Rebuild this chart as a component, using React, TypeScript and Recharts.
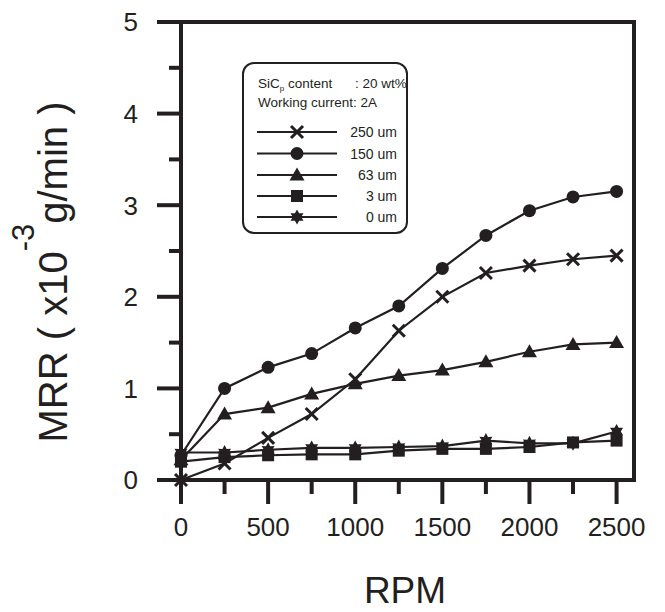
import React from 'react';
import { LineChart, Line, XAxis, YAxis, ReferenceArea, Customized } from 'recharts';

const INK = '#231f20';
const FONT = '"Liberation Sans", Arial, Helvetica, sans-serif';

// ---- data ----
const rpm = [0, 250, 500, 750, 1000, 1250, 1500, 1750, 2000, 2250, 2500];
const mrr250um = [0.0, 0.18, 0.46, 0.72, 1.1, 1.63, 2.0, 2.26, 2.34, 2.41, 2.45];
const mrr150um = [0.27, 1.0, 1.23, 1.38, 1.66, 1.9, 2.31, 2.67, 2.94, 3.09, 3.15];
const mrr63um = [0.22, 0.72, 0.79, 0.94, 1.05, 1.14, 1.2, 1.29, 1.4, 1.48, 1.5];
const mrr3um = [0.2, 0.25, 0.27, 0.28, 0.28, 0.32, 0.34, 0.34, 0.36, 0.41, 0.43];
const mrr0um = [0.3, 0.3, 0.33, 0.35, 0.35, 0.36, 0.37, 0.43, 0.4, 0.4, 0.53];

const seriesNames = ['250 um', '150 um', '63 um', '3 um', '0 um'];
const seriesKeys = ['s250', 's150', 's63', 's3', 's0'];
const seriesValues = [mrr250um, mrr150um, mrr63um, mrr3um, mrr0um];
const seriesShapes = ['x', 'circle', 'triangle', 'square', 'star'];

const xTicks = [0, 250, 500, 750, 1000, 1250, 1500, 1750, 2000, 2250, 2500];
const yTicks = [0, 0.5, 1, 1.5, 2, 2.5, 3, 3.5, 4, 4.5, 5];

const legendTitle1 = 'SiC';
const legendTitle1Sub = 'p';
const legendTitle1Rest = ' content';
const legendTitle1Value = ': 20 wt%';
const legendTitle2 = 'Working current: 2A';

const data = rpm.map((r, i) => {
  const row: any = { rpm: r };
  seriesKeys.forEach((k, j) => (row[k] = seriesValues[j][i]));
  return row;
});

// ---- layout ----
const W = 665;
const H = 612;
const Y_TICK_SIZE = 24;
const Y_TICK_MARGIN = 19;
const X_TICK_SIZE = 24;
const X_TICK_MARGIN = 14;

function Marker({ shape, cx, cy }: { shape: string; cx: number; cy: number }) {
  if (cx == null || cy == null || isNaN(cx) || isNaN(cy)) return null;
  switch (shape) {
    case 'x':
      return (
        <g stroke={INK} strokeWidth={3}>
          <line x1={cx - 6} y1={cy - 6} x2={cx + 6} y2={cy + 6} />
          <line x1={cx - 6} y1={cy + 6} x2={cx + 6} y2={cy - 6} />
        </g>
      );
    case 'circle':
      return <circle cx={cx} cy={cy} r={6.5} fill={INK} />;
    case 'triangle':
      return (
        <polygon
          points={`${cx},${cy - 7.5} ${cx - 7.5},${cy + 5.5} ${cx + 7.5},${cy + 5.5}`}
          fill={INK}
        />
      );
    case 'square':
      return <rect x={cx - 6} y={cy - 6} width={12} height={12} fill={INK} />;
    case 'star': {
      const pts: string[] = [];
      for (let i = 0; i < 12; i++) {
        const r = i % 2 === 0 ? 7.5 : 4.2;
        const a = -Math.PI / 2 + (i * Math.PI) / 6;
        pts.push(`${cx + r * Math.cos(a)},${cy + r * Math.sin(a)}`);
      }
      return <polygon points={pts.join(' ')} fill={INK} />;
    }
    default:
      return null;
  }
}

const YTick = (props: any) => {
  const { x, y, payload } = props;
  const v = payload.value;
  const major = Math.abs(v - Math.round(v)) < 1e-6;
  const ax = x + Y_TICK_SIZE + Y_TICK_MARGIN;
  return (
    <g>
      <line x1={ax - (major ? Y_TICK_SIZE : 12)} x2={ax} y1={y} y2={y} stroke={INK} strokeWidth={4} />
      {major && (
        <text x={x} y={y} dy="0.36em" textAnchor="end" fontSize={26} fontFamily={FONT} fill={INK}>
          {v}
        </text>
      )}
    </g>
  );
};

const XTick = (props: any) => {
  const { x, y, payload } = props;
  const v = payload.value;
  const major = v % 500 === 0;
  const ay = y - X_TICK_SIZE - X_TICK_MARGIN;
  return (
    <g>
      <line x1={x} x2={x} y1={ay} y2={ay + (major ? X_TICK_SIZE : 14)} stroke={INK} strokeWidth={4} />
      {major && (
        <text x={x} y={y} dy="0.71em" textAnchor="middle" fontSize={26} fontFamily={FONT} fill={INK}>
          {v}
        </text>
      )}
    </g>
  );
};

const AxisTitles = () => (
  <g fontFamily={FONT} fill={INK}>
    <text x={405} y={603} textAnchor="middle" fontSize={37}>
      RPM
    </text>
    <text transform="translate(67,272) rotate(-90)" textAnchor="middle" fontSize={40}>
      <tspan>MRR ( x10</tspan>
      <tspan fontSize={31} dy={-33}>-3</tspan>
      <tspan dy={33}>g/min )</tspan>
    </text>
  </g>
);

const LegendBox = () => {
  const left = 243;
  const top = 63;
  const rowY = [132, 153.5, 175, 196, 217];
  return (
    <g fontFamily={FONT} fill={INK}>
      <rect x={left} y={top} width={164} height={170} rx={11} ry={11} fill="#fff" stroke={INK} strokeWidth={2} />
      <text x={258} y={88} fontSize={13.5}>
        {legendTitle1}
        <tspan fontSize={8} dy={3}>{legendTitle1Sub}</tspan>
        <tspan dy={-3}>{legendTitle1Rest}</tspan>
      </text>
      <text x={355} y={88} fontSize={13.5}>
        {legendTitle1Value}
      </text>
      <text x={258} y={107} fontSize={13.5}>
        {legendTitle2}
      </text>
      {seriesNames.map((name, i) => (
        <g key={name}>
          <line x1={257} x2={337} y1={rowY[i]} y2={rowY[i]} stroke={INK} strokeWidth={2} />
          <Marker shape={seriesShapes[i]} cx={297} cy={rowY[i]} />
          <text x={397} y={rowY[i] + 5} textAnchor="end" fontSize={14}>
            {name}
          </text>
        </g>
      ))}
    </g>
  );
};

export default function App() {
  return (
    <div style={{ position: 'absolute', left: 0, top: 0, width: W, height: H, background: '#fff' }}>
      <LineChart width={W} height={H} data={data} margin={{ top: 22, right: 31, bottom: 72, left: 101 }}>
        <XAxis
          dataKey="rpm"
          type="number"
          domain={[0, 2600]}
          ticks={xTicks}
          interval={0}
          height={60}
          tickSize={X_TICK_SIZE}
          tickMargin={X_TICK_MARGIN}
          tickLine={false}
          tick={<XTick />}
          axisLine={{ stroke: INK, strokeWidth: 4 }}
        />
        <YAxis
          type="number"
          domain={[0, 5]}
          ticks={yTicks}
          interval={0}
          width={80}
          tickSize={Y_TICK_SIZE}
          tickMargin={Y_TICK_MARGIN}
          tickLine={false}
          tick={<YTick />}
          axisLine={{ stroke: INK, strokeWidth: 4 }}
        />
        <ReferenceArea x1={0} x2={2600} y1={0} y2={5} fill="none" stroke={INK} strokeWidth={4} />
        {seriesKeys.map((k, i) => (
          <Line
            key={k}
            dataKey={k}
            name={seriesNames[i]}
            type="linear"
            stroke={INK}
            strokeWidth={2.2}
            isAnimationActive={false}
            dot={(p: any) => <Marker key={`${k}-${p.index}`} shape={seriesShapes[i]} cx={p.cx} cy={p.cy} />}
            activeDot={false}
          />
        ))}
        <Customized component={LegendBox} />
        <Customized component={AxisTitles} />
      </LineChart>
    </div>
  );
}
